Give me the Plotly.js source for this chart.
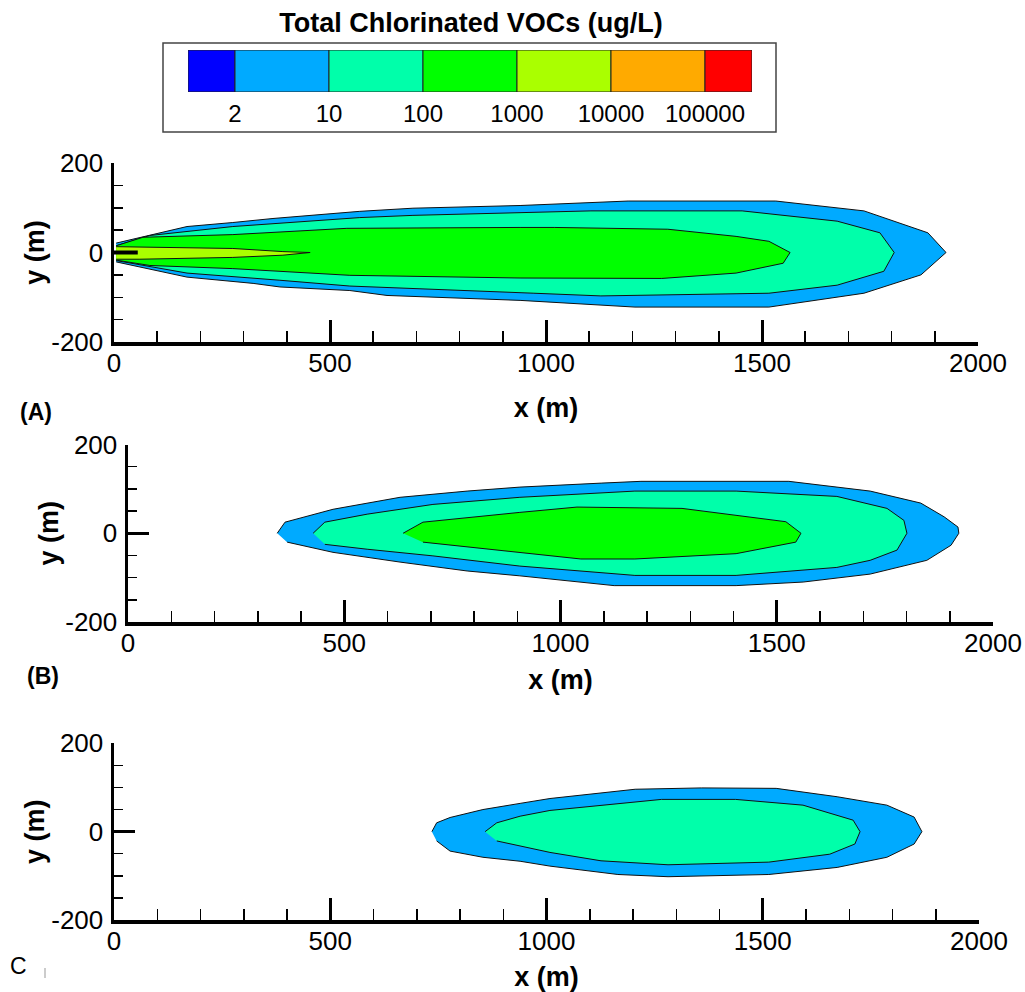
<!DOCTYPE html>
<html>
<head>
<meta charset="utf-8">
<script src="https://cdn.plot.ly/plotly-3.0.1.min.js"></script>
<style>html,body{margin:0;padding:0;background:#fff;}#chart{width:1025px;height:992px;}</style>
</head>
<body>
<div id="chart"></div>
<script>
// ---- Legend (concentration classes) ----
const legendLabels = ['2', '10', '100', '1000', '10000', '100000'];
const legendColors = ['#0000FF', '#00AAFF', '#00FFAA', '#00FF00', '#AAFF00', '#FFAA00', '#FF0000'];

// ---- Axis ticks ----
const xTickVals = [0, 500, 1000, 1500, 2000];
const yTickVals = [-200, 0, 200];
const yTickText = ['-200', '0', '200'];

// ---- Panel (A) contour outlines (x m, y m) ----
const aBlueX  = [5, 169, 275, 368, 569, 692, 940, 1190, 1532, 1736, 1884, 1926, 1868, 1736, 1516, 1206, 940, 632, 546, 384, 322, 169, 5];
const aBlueY  = [21, 58, 67, 76, 92, 99, 105, 115, 115, 93, 44, 0, -50, -91, -122, -122, -107, -96, -85, -77, -69, -55, -21];
const aAquaX  = [5, 83, 275, 569, 692, 940, 1104, 1454, 1674, 1773, 1806, 1782, 1674, 1516, 1127, 972, 632, 546, 384, 169, 5];
const aAquaY  = [15, 38, 58, 78, 83, 90, 93, 93, 70, 44, 0, -42, -73, -91, -97, -91, -77, -75, -62, -46, -18];
const aGreenX = [5, 67, 275, 539, 940, 1019, 1282, 1440, 1516, 1565, 1549, 1440, 1268, 940, 546, 275, 83, 5];
const aGreenY = [15, 34, 40, 54, 56, 56, 52, 36, 25, 0, -24, -46, -58, -57, -51, -36, -29, -17];
const aLimeX  = [5, 60, 275, 391, 454, 391, 275, 60, 5];
const aLimeY  = [13, 12, 9, 2, 0, -6, -11, -15, -15];
const aSourceX = [0, 55];
const aSourceY = [0, 0];

// ---- Panel (B) ----
const bBlueX  = [345, 363, 474, 629, 784, 906, 1094, 1186, 1528, 1716, 1833, 1887, 1919, 1921, 1903, 1847, 1716, 1561, 1406, 1124, 906, 784, 629, 474, 368];
const bBlueY  = [0, 25, 54, 81, 95, 104, 113, 117, 117, 95, 68, 37, 14, 0, -27, -61, -92, -110, -118, -118, -96, -85, -65, -43, -20];
const bAquaX  = [428, 455, 553, 705, 906, 1172, 1406, 1639, 1755, 1794, 1801, 1778, 1716, 1639, 1406, 1172, 906, 705, 553, 455];
const bAquaY  = [0, 25, 43, 65, 81, 95, 95, 83, 56, 29, 0, -38, -61, -77, -95, -95, -74, -51, -36, -25];
const bGreenX = [636, 682, 906, 1038, 1281, 1521, 1556, 1544, 1406, 1172, 1047, 906, 682];
const bGreenY = [0, 25, 47, 59, 56, 26, 0, -20, -46, -58, -58, -43, -20];

// ---- Panel (C) ----
const cBlueX  = [735, 746, 777, 853, 939, 1008, 1205, 1359, 1531, 1672, 1787, 1850, 1868, 1850, 1787, 1672, 1514, 1281, 1165, 1008, 939, 853, 777, 746];
const cBlueY  = [0, 20, 32, 50, 64, 75, 96, 99, 98, 79, 60, 33, 0, -28, -58, -81, -97, -102, -97, -78, -67, -58, -44, -21];
const cAquaX  = [858, 885, 939, 1008, 1266, 1437, 1593, 1709, 1725, 1713, 1655, 1514, 1281, 1126, 1008, 939, 885];
const cAquaY  = [0, 20, 35, 48, 73, 73, 60, 26, 0, -28, -51, -69, -75, -66, -47, -32, -21];

const W = 1025, H = 992;
const FONT = 'Liberation Sans, Arial, sans-serif';

function poly(x, y, color, xa, ya) {
  return {type: 'scatter', mode: 'lines', x: x, y: y, fill: 'toself', fillcolor: color,
          line: {color: '#111', width: 1}, xaxis: xa, yaxis: ya, hoverinfo: 'skip', showlegend: false};
}

const traces = [
  poly(aBlueX, aBlueY, legendColors[1], 'x', 'y'),
  poly(aAquaX, aAquaY, legendColors[2], 'x', 'y'),
  poly(aGreenX, aGreenY, legendColors[3], 'x', 'y'),
  poly(aLimeX, aLimeY, legendColors[4], 'x', 'y'),
  {type: 'scatter', mode: 'lines', x: aSourceX, y: aSourceY, line: {color: '#000', width: 4},
   xaxis: 'x', yaxis: 'y', hoverinfo: 'skip', showlegend: false},
  poly(bBlueX, bBlueY, legendColors[1], 'x2', 'y2'),
  poly(bAquaX, bAquaY, legendColors[2], 'x2', 'y2'),
  poly(bGreenX, bGreenY, legendColors[3], 'x2', 'y2'),
  poly(cBlueX, cBlueY, legendColors[1], 'x3', 'y3'),
  poly(cAquaX, cAquaY, legendColors[2], 'x3', 'y3')
];

// legend colour bar as bars on its own axis
const nBox = legendColors.length;
const barX = [], barW = [];
for (let i = 0; i < nBox; i++) {
  const lo = Math.max(0, i - 0.5), hi = Math.min(nBox - 1, i + 0.5);
  barX.push((lo + hi) / 2); barW.push(hi - lo);
}
traces.push({type: 'bar', x: barX, y: legendColors.map(() => 1), width: barW,
  marker: {color: legendColors, line: {color: '#222', width: 1}},
  xaxis: 'x4', yaxis: 'y4', hoverinfo: 'skip', showlegend: false});

function px2fx(p) { return p / W; }
function py2fy(p) { return 1 - p / H; }

function xAxis(x0, x1, yAnchor, standoff) {
  return {domain: [px2fx(x0), px2fx(x1)], anchor: yAnchor, range: [0, 2000], tickvals: xTickVals,
    ticks: 'inside', ticklen: 22, tickwidth: 3, tickcolor: '#000',
    minor: {dtick: 100, tick0: 0, ticks: 'inside', ticklen: 11, tickwidth: 1.5, tickcolor: '#000'},
    showline: true, linewidth: 3.5, linecolor: '#000', showgrid: false, zeroline: false,
    tickfont: {family: FONT, size: 26, color: '#000'}, ticklabelstandoff: -5,
    title: {text: '<b>x (m)</b>', font: {family: FONT, size: 27, color: '#000'}, standoff: standoff},
    fixedrange: true};
}
function yAxis(y0, y1, xAnchor) {
  return {domain: [py2fy(y1), py2fy(y0)], anchor: xAnchor, range: [-200, 200], tickvals: yTickVals, ticktext: yTickText,
    ticks: 'inside', ticklen: 21, tickwidth: 3, tickcolor: '#000',
    minor: {dtick: 50, tick0: 0, ticks: 'inside', ticklen: 9, tickwidth: 1.5, tickcolor: '#000'},
    showline: true, linewidth: 3.5, linecolor: '#000', showgrid: false, zeroline: false,
    tickfont: {family: FONT, size: 26, color: '#000'}, ticklabelstandoff: 2,
    title: {text: '<b>y (m)</b>', font: {family: FONT, size: 27, color: '#000'}, standoff: 0},
    fixedrange: true};
}

const layout = {
  width: W, height: H, margin: {l: 0, r: 0, t: 0, b: 0}, paper_bgcolor: '#fff', plot_bgcolor: 'rgba(0,0,0,0)',
  showlegend: false,
  title: {text: '<b>Total Chlorinated VOCs (ug/L)</b>', font: {family: FONT, size: 27, color: '#000'},
          x: 471 / W, xanchor: 'center', y: 1 - 23 / H, yanchor: 'middle', xref: 'paper', yref: 'paper'},
  xaxis: xAxis(114, 978, 'y', 22),
  yaxis: yAxis(163, 342, 'x'),
  xaxis2: xAxis(128, 993, 'y2', 14),
  yaxis2: yAxis(444.5, 622, 'x2'),
  xaxis3: xAxis(114, 979, 'y3', 19),
  yaxis3: yAxis(743.3, 920, 'x3'),
  xaxis4: {domain: [px2fx(188), px2fx(752)], anchor: 'y4', range: [0, nBox - 1],
    tickvals: legendLabels.map((_, i) => i + 0.5), ticktext: legendLabels, ticks: '', showline: false,
    showgrid: false, zeroline: false, tickfont: {family: FONT, size: 24, color: '#000'}, ticklabelstandoff: 5, fixedrange: true},
  yaxis4: {domain: [py2fy(92), py2fy(50)], anchor: 'x4', range: [0, 1], showticklabels: false, ticks: '',
    showline: false, showgrid: false, zeroline: false, fixedrange: true},
  bargap: 0,
  shapes: [
    {type: 'rect', xref: 'paper', yref: 'paper', x0: px2fx(163), x1: px2fx(776), y0: py2fy(132), y1: py2fy(43),
     line: {color: '#444', width: 1.5}, fillcolor: 'rgba(0,0,0,0)', layer: 'below'},
    {type: 'line', xref: 'paper', yref: 'paper', x0: px2fx(45), x1: px2fx(45), y0: py2fy(978), y1: py2fy(968),
     line: {color: '#999', width: 1}}
  ],
  annotations: [
    {text: '<b>(A)</b>', x: px2fx(36), y: py2fy(412), xref: 'paper', yref: 'paper', showarrow: false,
     xanchor: 'center', yanchor: 'middle', font: {family: FONT, size: 23, color: '#000'}},
    {text: '<b>(B)</b>', x: px2fx(43), y: py2fy(676), xref: 'paper', yref: 'paper', showarrow: false,
     xanchor: 'center', yanchor: 'middle', font: {family: FONT, size: 23, color: '#000'}},
    {text: 'C', x: px2fx(18), y: py2fy(966), xref: 'paper', yref: 'paper', showarrow: false,
     xanchor: 'center', yanchor: 'middle', font: {family: FONT, size: 23, color: '#000'}}
  ]
};

Plotly.newPlot('chart', traces, layout, {staticPlot: true, displayModeBar: false});
</script>
</body>
</html>
